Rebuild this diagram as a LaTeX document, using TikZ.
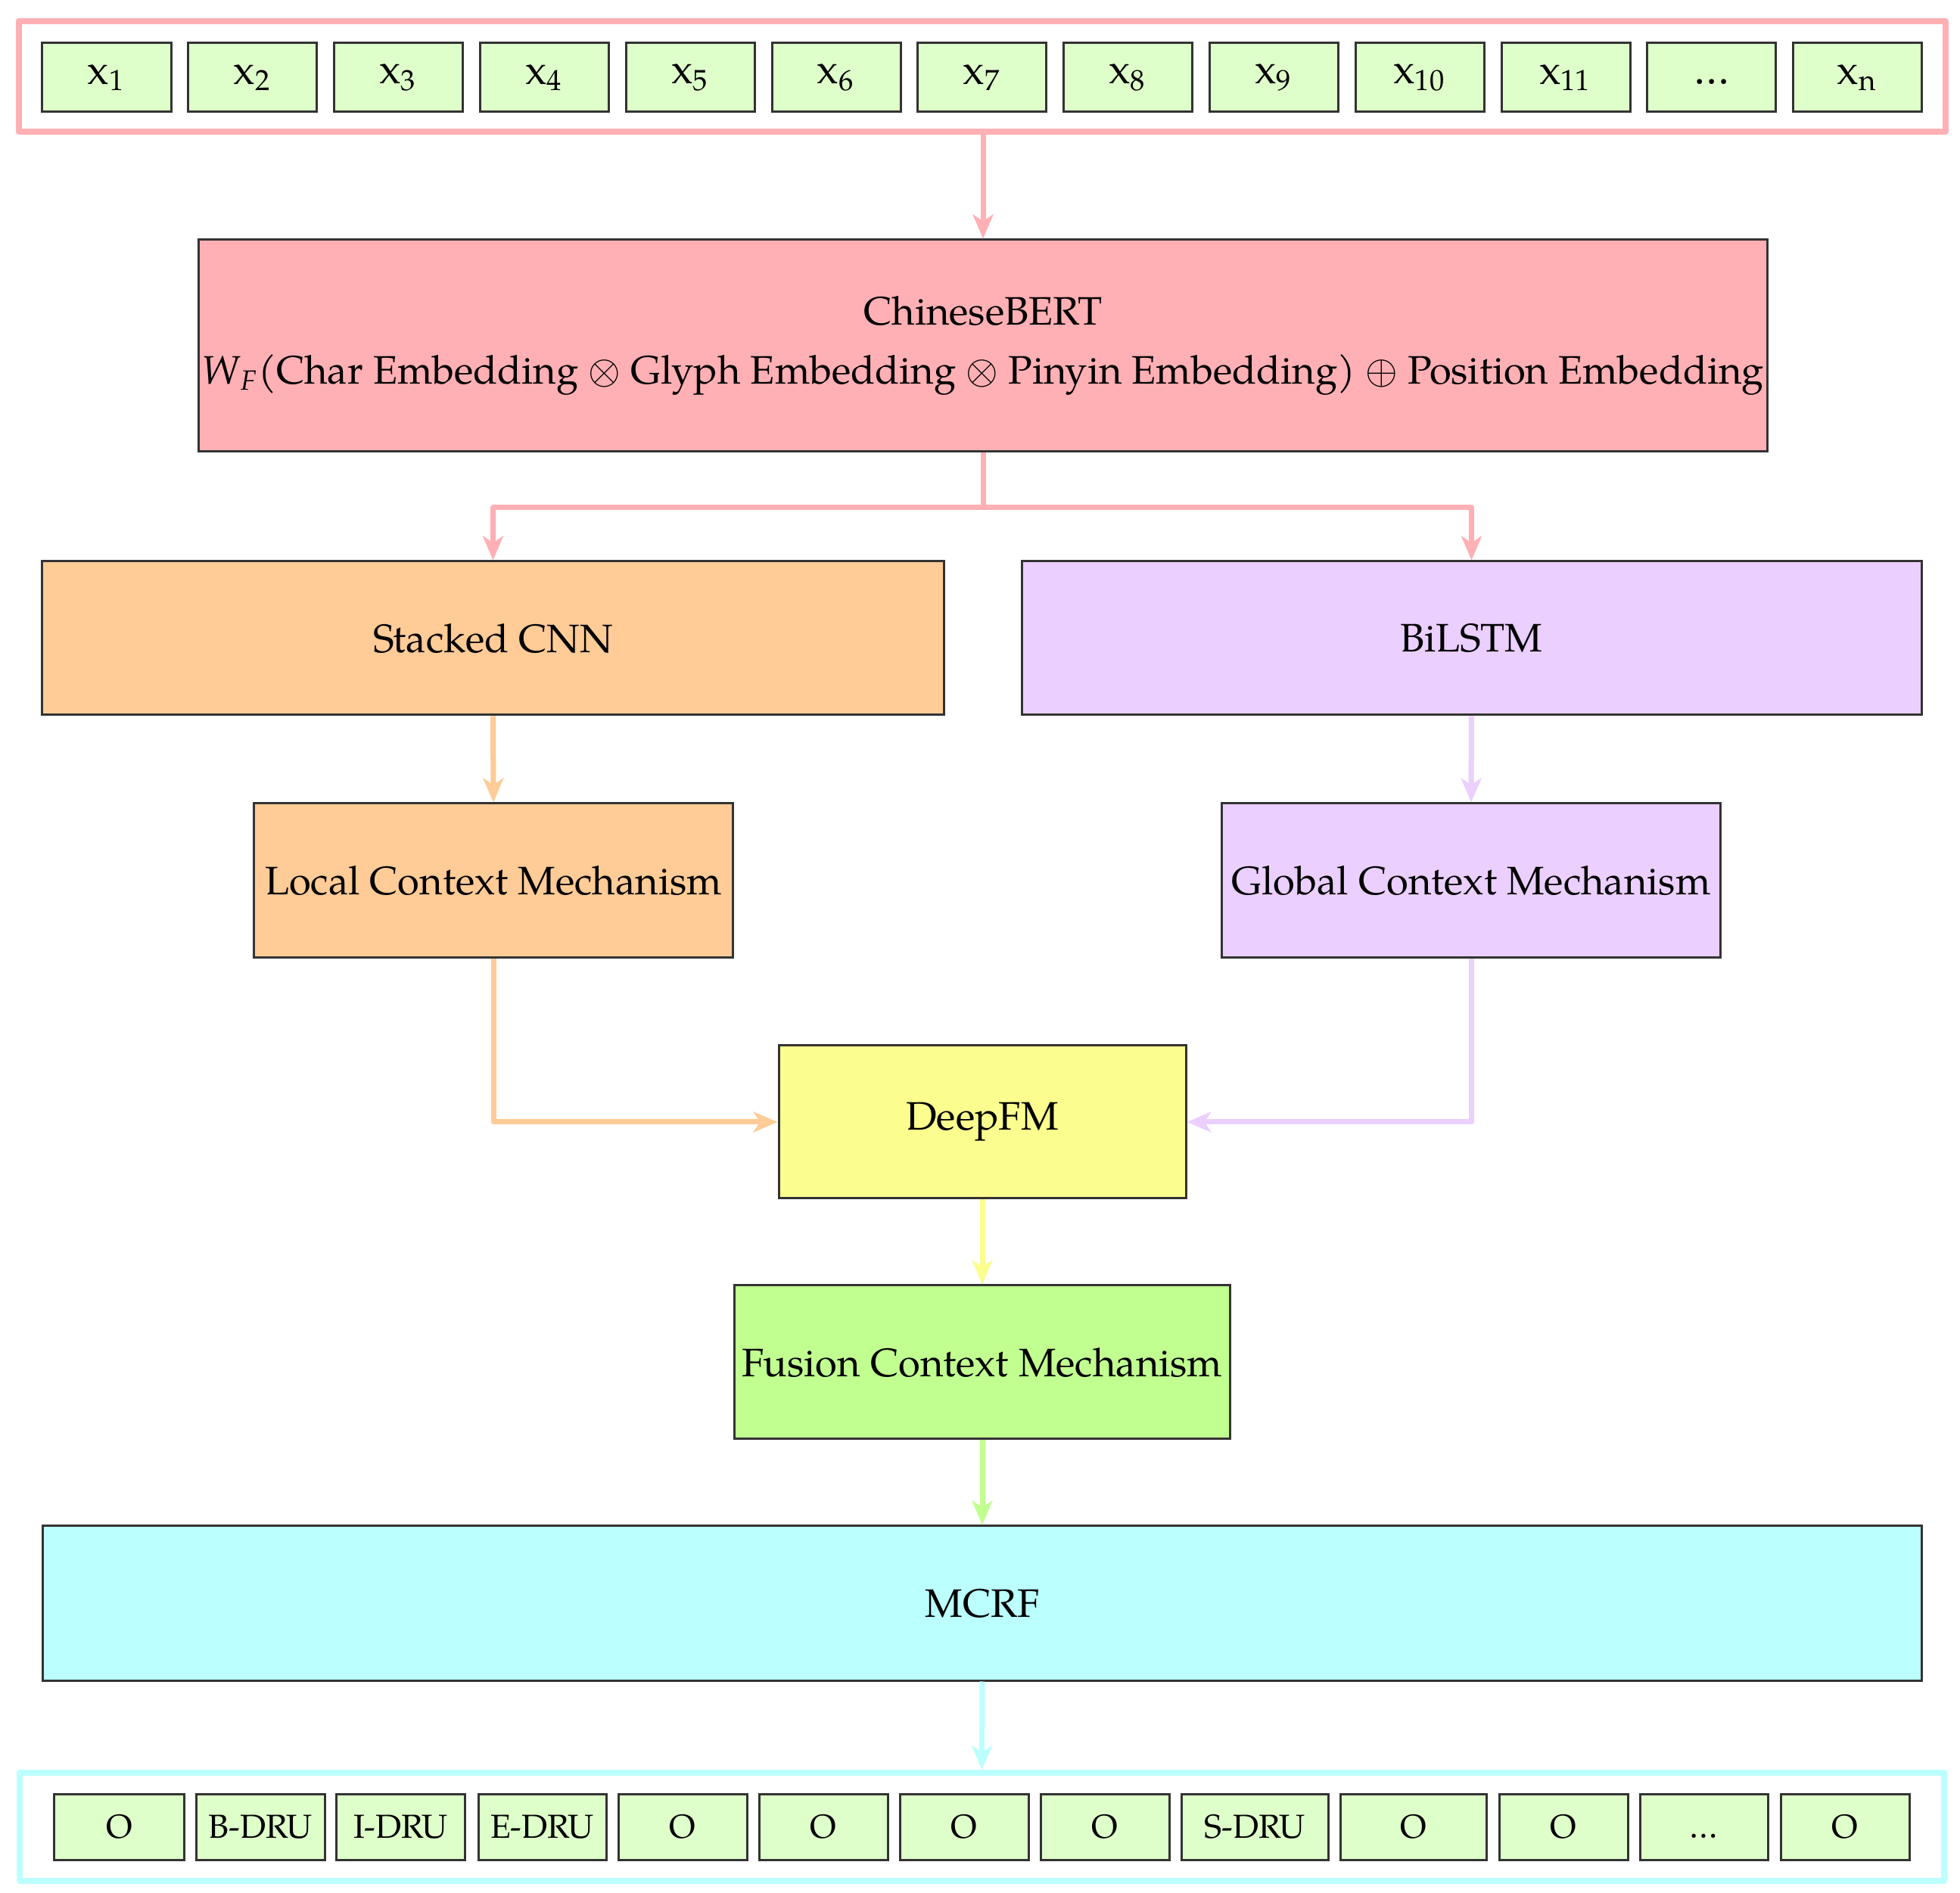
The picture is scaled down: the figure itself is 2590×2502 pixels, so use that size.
\documentclass[tikz,border=0pt]{standalone}
\usepackage{fontspec}
\setmainfont{texgyrepagella}[Extension=.otf, UprightFont=*-regular, ItalicFont=*-italic, BoldFont=*-bold, BoldItalicFont=*-bolditalic]
\usetikzlibrary{arrows.meta}
\definecolor{cpink}{HTML}{FFB0B4}
\definecolor{cgreenl}{HTML}{DEFFCA}
\definecolor{corange}{HTML}{FFCB96}
\definecolor{clav}{HTML}{EBCFFF}
\definecolor{cyellow}{HTML}{FBFE8F}
\definecolor{cgreen}{HTML}{C1FF90}
\definecolor{ccyan}{HTML}{BBFFFE}
\definecolor{cborder}{HTML}{333333}
\tikzset{
  box/.style={draw=cborder, line width=0.6pt, inner sep=0pt, align=center, font=\fontsize{10.5}{15.6}\selectfont},
  inbox/.style={box, fill=cgreenl, minimum width=34pt, minimum height=18.2pt, font=\fontsize{11}{13}\selectfont},
  outbox/.style={box, fill=cgreenl, minimum height=17.4pt, font=\fontsize{8.8}{10}\selectfont},
  frame/.style={draw=#1, line width=1.6pt, line join=round, inner sep=0pt},
  conn/.style={draw=#1, line width=1.4pt, line join=round, -{Stealth[length=6.4pt,width=5.4pt,inset=1.8pt]}}
}
\begin{document}
\begin{tikzpicture}[x=0.2pt,y=-0.2pt]
\useasboundingbox (0,0) rectangle (2590,2502);
% input frame
\node[frame=cpink, minimum width=509.2pt, minimum height=29.2pt] (frameIn) at (1298,101) {};
\foreach \i/\t in {1/x\textsubscript{1},2/x\textsubscript{2},3/x\textsubscript{3},4/x\textsubscript{4},5/x\textsubscript{5},6/x\textsubscript{6},7/x\textsubscript{7},8/x\textsubscript{8},9/x\textsubscript{9},10/x\textsubscript{10},11/x\textsubscript{11},12/{\vphantom{x\textsubscript{1}}\ldots},13/x\textsubscript{n}}
  \node[inbox] (in\i) at ({141+192.8*(\i-1)},102.5) {\t};
% main blocks
\node[box, fill=cpink, minimum width=414.4pt, minimum height=56pt] (bert) at (1299,457)
  {ChineseBERT\\\textit{W}\textsubscript{\textit{F}}(Char Embedding $\otimes$ Glyph Embedding $\otimes$ Pinyin Embedding) $\oplus$ Position Embedding};
\node[box, fill=corange, minimum width=238.2pt, minimum height=40.6pt] (cnn) at (651.5,843.5) {Stacked CNN};
\node[box, fill=clav, minimum width=237.8pt, minimum height=40.6pt] (lstm) at (1944.5,843.5) {BiLSTM};
\node[box, fill=corange, minimum width=126.4pt, minimum height=40.8pt] (local) at (652,1164) {Local Context Mechanism};
\node[box, fill=clav, minimum width=131.8pt, minimum height=40.8pt] (global) at (1944,1164) {Global Context Mechanism};
\node[box, fill=cyellow, minimum width=107.6pt, minimum height=40.4pt] (deepfm) at (1298,1483) {DeepFM};
\node[box, fill=cgreen, minimum width=131pt, minimum height=40.6pt] (fusion) at (1298,1800.5) {Fusion Context Mechanism};
\node[box, fill=ccyan, minimum width=496.6pt, minimum height=40.8pt] (mcrf) at (1298,2119) {MCRF};
% output frame
\node[frame=ccyan, minimum width=508.6pt, minimum height=28.6pt] (frameOut) at (1297.5,2414.5) {};
\foreach \n/\c/\w/\t in {1/157.5/34.2/O,2/344/34/B-DRU,3/529.5/34/I-DRU,4/716.5/33.8/E-DRU,5/902/34/O,6/1088/34/O,7/1274/34/O,8/1460/34/O,9/1658/38.8/S-DRU,10/1867.5/38.6/O,11/2066/34/O,12/2251.5/33.8/{\vphantom{O}\ldots},13/2438/34/O}
  \node[outbox, minimum width=\w pt] (out\n) at (\c,2414.5) {\t};
% connectors
\coordinate (split) at (1299,671);
\draw[conn=cpink] (bert.north |- frameIn.south) -- (bert.north);
\draw[conn=cpink] (bert.south) -- (split) -| (cnn.north);
\draw[conn=cpink] (split) -| (lstm.north);
\draw[conn=corange] (cnn.south) -- (local.north);
\draw[conn=clav] (lstm.south) -- (global.north);
\draw[conn=corange] (local.south) |- (deepfm.west);
\draw[conn=clav] (global.south) |- (deepfm.east);
\draw[conn=cyellow] (deepfm.south) -- (fusion.north);
\draw[conn=cgreen] (fusion.south) -- (mcrf.north);
\draw[conn=ccyan] (mcrf.south) -- (frameOut.north);
\end{tikzpicture}
\end{document}
